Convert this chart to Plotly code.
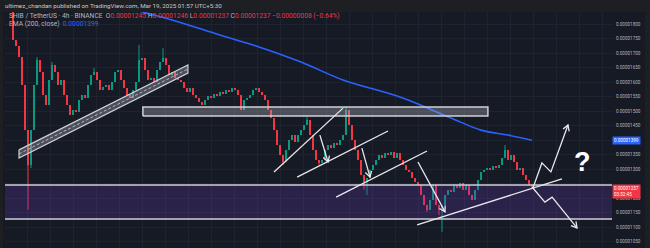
import math
import plotly.graph_objects as go

# ---------------- data (prices in units of 0.00000001 USDT) ----------------
SCALE = 1e-8
first_open = 1850
closes = [
    1745, 1724, 1686, 1590, 1434, 1314, 1434, 1590, 1676, 1634,
    1555, 1521, 1607, 1659, 1634, 1590, 1607, 1555, 1521, 1486,
    1503, 1497, 1538, 1555, 1545, 1590, 1624, 1634, 1607, 1572,
    1583, 1590, 1572, 1600, 1634, 1641, 1607, 1579, 1555, 1545,
    1572, 1600, 1676, 1683, 1641, 1607, 1614, 1600, 1641, 1669,
    1683, 1659, 1624, 1634, 1614, 1607, 1600, 1579, 1566, 1579,
    1555, 1545, 1531, 1521, 1538, 1552, 1545, 1559, 1552, 1566,
    1559, 1572, 1566, 1579, 1572, 1555, 1503, 1538, 1545, 1555,
    1572, 1579, 1566, 1555, 1538, 1503, 1476, 1434, 1383, 1348,
    1324, 1366, 1400, 1417, 1393, 1417, 1434, 1452, 1469, 1417,
    1366, 1331, 1321, 1331, 1366, 1383, 1372, 1390, 1383, 1400,
    1417, 1503, 1452, 1400, 1366, 1331, 1279, 1255, 1269, 1297,
    1314, 1331, 1348, 1338, 1355, 1348, 1359, 1338, 1355, 1331,
    1314, 1297, 1290, 1269, 1255, 1245, 1210, 1176, 1159, 1193,
    1245, 1176, 1159, 1176, 1210, 1228, 1221, 1245, 1234, 1252,
    1228, 1245, 1210, 1193, 1228, 1262, 1290, 1297, 1303, 1297,
    1310, 1303, 1314, 1338, 1366, 1331, 1348, 1324, 1297, 1303,
    1279, 1262, 1245, 1237,
]
wick_highs = {8: 1686, 13: 1669, 27: 1648, 42: 1728, 50: 1717, 98: 1479,
              111: 1517, 164: 1383}
wick_lows = {5: 1159, 6: 1303, 90: 1314, 102: 1314, 117: 1228, 118: 1210,
             138: 1152, 142: 1141, 143: 1083}

ema_idx = [35, 42, 53, 69, 82, 96, 110, 129, 146, 156, 165, 173]
ema_val = [1868, 1845, 1814, 1762, 1721, 1669, 1607, 1548, 1476, 1434, 1417, 1399]

# drawings (candle index, price)
band_upper = [(2, 1366), (58.3, 1659)]
band_lower = [(2, 1338), (58.3, 1631)]
resistance_box = (43.3, 158.3, 1483, 1514)
support_box = (1128, 1245)
trend_lines = [
    [(87, 1290), (110, 1510)],
    [(94.7, 1272), (125, 1431)],
    [(107.7, 1203), (138, 1362)],
    [(134.7, 1107), (183, 1266)],
]
arrow_paths = [
    [(102.3, 1417), (105, 1324)],
    [(116.3, 1372), (119, 1272)],
    [(135, 1324), (144, 1152)],
    [(173.3, 1234), (176.3, 1321), (179.3, 1290), (185, 1452)],
    [(173, 1238), (177.3, 1186), (179.7, 1203), (188, 1097)],
]
question_mark = (189.7, 1324)

last_price = 1237
ema_last = 1399
tick_prices = [1050, 1100, 1150, 1200, 1250, 1300, 1350, 1400, 1450,
               1500, 1550, 1600, 1650, 1700, 1750, 1800]
hidden_ticks = [1250, 1400]

header = "ultimez_chandan published on TradingView.com, Mar 19, 2025 01:57 UTC+5:30"
symbol = "SHIB / TetherUS · 4h · BINANCE"
ohlc = [("O", "0.00001245"), ("H", "0.00001246"), ("L", "0.00001237"), ("C", "0.00001237")]
change = "−0.00000008 (−0.64%)"

# ---------------- styling / layout ----------------
W, H = 650, 248
ML, MR, MT, MB = 5, 38, 12, 0
PW, PH = W - ML - MR, H - MT - MB
X_RANGE = [-2.667, 199.667]
Y_RANGE = [1027.6, 1841.4]
BG = "#161a25"
UP, DN = "#089981", "#f23645"
GRID = "#1f2330"
WHITE = "#e8e9ec"
FONT = "Roboto"
TXT = 6.2
LEG = 6.7

sx = PW / (X_RANGE[1] - X_RANGE[0])
sy = PH / (Y_RANGE[1] - Y_RANGE[0])


def s(v):
    return v * SCALE


opens = [first_open] + closes[:-1]
highs = [wick_highs.get(i, max(o, c)) for i, (o, c) in enumerate(zip(opens, closes))]
lows = [wick_lows.get(i, min(o, c)) for i, (o, c) in enumerate(zip(opens, closes))]

fig = go.Figure()

xs = list(range(len(closes)))
base = [s(min(o, c)) for o, c in zip(opens, closes)]
hgt = [s(max(abs(c - o), 2)) for o, c in zip(opens, closes)]
cols = [UP if c >= o else DN for o, c in zip(opens, closes)]
for colr in (UP, DN):
    wx, wy = [], []
    for i in xs:
        if cols[i] == colr:
            wx += [i, i, None]
            wy += [s(lows[i]), s(highs[i]), None]
    fig.add_trace(go.Scatter(x=wx, y=wy, mode="lines", line=dict(color=colr, width=1),
                             hoverinfo="skip", showlegend=False))
fig.add_trace(go.Bar(x=xs, y=hgt, base=base, width=0.7, marker=dict(color=cols, line=dict(width=0)),
                     hoverinfo="skip", showlegend=False))

# EMA
fig.add_trace(go.Scatter(x=ema_idx, y=[s(v) for v in ema_val], mode="lines",
                         line=dict(color="#2962ff", width=1.6, shape="spline", smoothing=1.0),
                         hoverinfo="skip", showlegend=False))

# support zone (purple)
xa, xb = X_RANGE[0] - 5, X_RANGE[1] + 5
fig.add_trace(go.Scatter(x=[xa, xb, xb, xa, xa], y=[s(support_box[0])] * 2 + [s(support_box[1])] * 2 + [s(support_box[0])],
                         mode="none", fill="toself", fillcolor="rgba(103,58,183,0.25)",
                         hoverinfo="skip", showlegend=False))
for yv in support_box:
    fig.add_trace(go.Scatter(x=[xa, xb], y=[s(yv), s(yv)], mode="lines",
                             line=dict(color="#cfd1d8", width=1.5), hoverinfo="skip", showlegend=False))

# resistance zone (gray)
x0, x1, y0, y1 = resistance_box
fig.add_trace(go.Scatter(x=[x0, x1, x1, x0, x0], y=[s(y0), s(y0), s(y1), s(y1), s(y0)],
                         mode="lines", fill="toself", fillcolor="rgba(178,181,190,0.35)",
                         line=dict(color="#cfd1d8", width=1.5), hoverinfo="skip", showlegend=False))

# channel band
bx = [band_upper[0][0], band_upper[1][0], band_lower[1][0], band_lower[0][0], band_upper[0][0]]
by = [band_upper[0][1], band_upper[1][1], band_lower[1][1], band_lower[0][1], band_upper[0][1]]
fig.add_trace(go.Scatter(x=bx, y=[s(v) for v in by], mode="lines", fill="toself",
                         fillcolor="rgba(178,181,190,0.35)", line=dict(color="#cfd1d8", width=1.2),
                         hoverinfo="skip", showlegend=False))
mid = [((a[0] + b[0]) / 2, (a[1] + b[1]) / 2) for a, b in zip(band_upper, band_lower)]
fig.add_trace(go.Scatter(x=[m[0] for m in mid], y=[s(m[1]) for m in mid], mode="lines",
                         line=dict(color="#cfd1d8", width=0.8, dash="3px,2px"),
                         hoverinfo="skip", showlegend=False))

# trend lines
for ln in trend_lines:
    fig.add_trace(go.Scatter(x=[p[0] for p in ln], y=[s(p[1]) for p in ln], mode="lines",
                             line=dict(color=WHITE, width=1.3), hoverinfo="skip", showlegend=False))


def head(p0, p1, L=6.5, ang=30):
    dx = (p1[0] - p0[0]) * sx
    dy = (p1[1] - p0[1]) * sy
    n = math.hypot(dx, dy)
    ux, uy = dx / n, dy / n
    pts = []
    for sg in (1, -1):
        a = math.radians(ang * sg)
        rx = ux * math.cos(a) - uy * math.sin(a)
        ry = ux * math.sin(a) + uy * math.cos(a)
        pts.append((p1[0] - L * rx / sx, p1[1] - L * ry / sy))
    return pts


for path in arrow_paths:
    fig.add_trace(go.Scatter(x=[p[0] for p in path], y=[s(p[1]) for p in path], mode="lines",
                             line=dict(color=WHITE, width=1.3), hoverinfo="skip", showlegend=False))
    h1, h2 = head(path[-2], path[-1])
    fig.add_trace(go.Scatter(x=[h1[0], path[-1][0], h2[0]], y=[s(h1[1]), s(path[-1][1]), s(h2[1])],
                             mode="lines", line=dict(color=WHITE, width=1.3),
                             hoverinfo="skip", showlegend=False))

# last price dotted line
fig.add_shape(type="line", xref="paper", x0=0, x1=1, yref="y", y0=s(last_price), y1=s(last_price),
              line=dict(color=DN, width=0.8, dash="dot"), layer="between")

# panel background extending under price axis
fig.add_shape(type="rect", xref="paper", yref="paper", x0=-2 / PW, x1=(645 - ML) / PW, y0=0, y1=1,
              fillcolor=BG, line=dict(width=0), layer="below")


def px_x(p):
    return (p - ML) / PW


def px_y(p):
    return 1 - (p - MT) / PH


annotations = []
annotations.append(dict(xref="paper", yref="paper", x=px_x(3), y=px_y(6), xanchor="left", yanchor="middle",
                        text=header, showarrow=False, font=dict(family=FONT, size=TXT, color="#c9cacd")))
leg = symbol + "  " + " ".join(f'{k}<span style="color:{DN}">{v}</span>' for k, v in ohlc) + \
      f' <span style="color:{DN}">{change}</span>'
annotations.append(dict(xref="paper", yref="paper", x=px_x(7), y=px_y(16.5), xanchor="left", yanchor="middle",
                        text=leg, showarrow=False, font=dict(family=FONT, size=LEG, color="#b2b5be")))
annotations.append(dict(xref="paper", yref="paper", x=px_x(7), y=px_y(24.5), xanchor="left", yanchor="middle",
                        text=f'EMA (200, close)  <span style="color:#2962ff">{s(ema_last):.8f}</span>',
                        showarrow=False, font=dict(family=FONT, size=LEG, color="#b2b5be")))
annotations.append(dict(xref="x", yref="y", x=question_mark[0], y=s(question_mark[1]), text="<b>?</b>",
                        showarrow=False, font=dict(family="Liberation Sans", size=27, color="#ffffff")))
annotations.append(dict(xref="paper", yref="y", x=1.0, y=s(ema_last), xanchor="left", yanchor="middle",
                        text=f"{s(ema_last):.8f}", showarrow=False, bgcolor="#2962ff", borderpad=1,
                        font=dict(family=FONT, size=4.6, color="#ffffff")))
annotations.append(dict(xref="paper", yref="y", x=1.0, y=s(last_price), xanchor="left", yanchor="middle",
                        yshift=-4, text=f"{s(last_price):.8f}<br>03:32:45", showarrow=False, bgcolor=DN,
                        borderpad=1, align="left", font=dict(family=FONT, size=4.6, color="#ffffff")))

ticktext = ["" if t in hidden_ticks else f"{s(t):.8f}" for t in tick_prices]

fig.update_layout(
    width=W, height=H, margin=dict(l=ML, r=MR, t=MT, b=MB),
    paper_bgcolor="#1e1f22", plot_bgcolor=BG, showlegend=False, barmode="overlay",
    bargap=0, annotations=annotations,
    xaxis=dict(range=X_RANGE, showticklabels=False, showgrid=True, gridcolor=GRID, gridwidth=1,
               tick0=4.667, dtick=7.667, zeroline=False, showline=False, fixedrange=True),
    yaxis=dict(range=[s(Y_RANGE[0]), s(Y_RANGE[1])], side="right", tickvals=[s(t) for t in tick_prices],
               ticktext=ticktext, showgrid=True, gridcolor=GRID, gridwidth=1, zeroline=False,
               ticks="", ticklabelstandoff=3, tickfont=dict(family=FONT, size=4.6, color="#b2b5be"),
               showline=False, fixedrange=True),
)

fig.write_html("out.html")
